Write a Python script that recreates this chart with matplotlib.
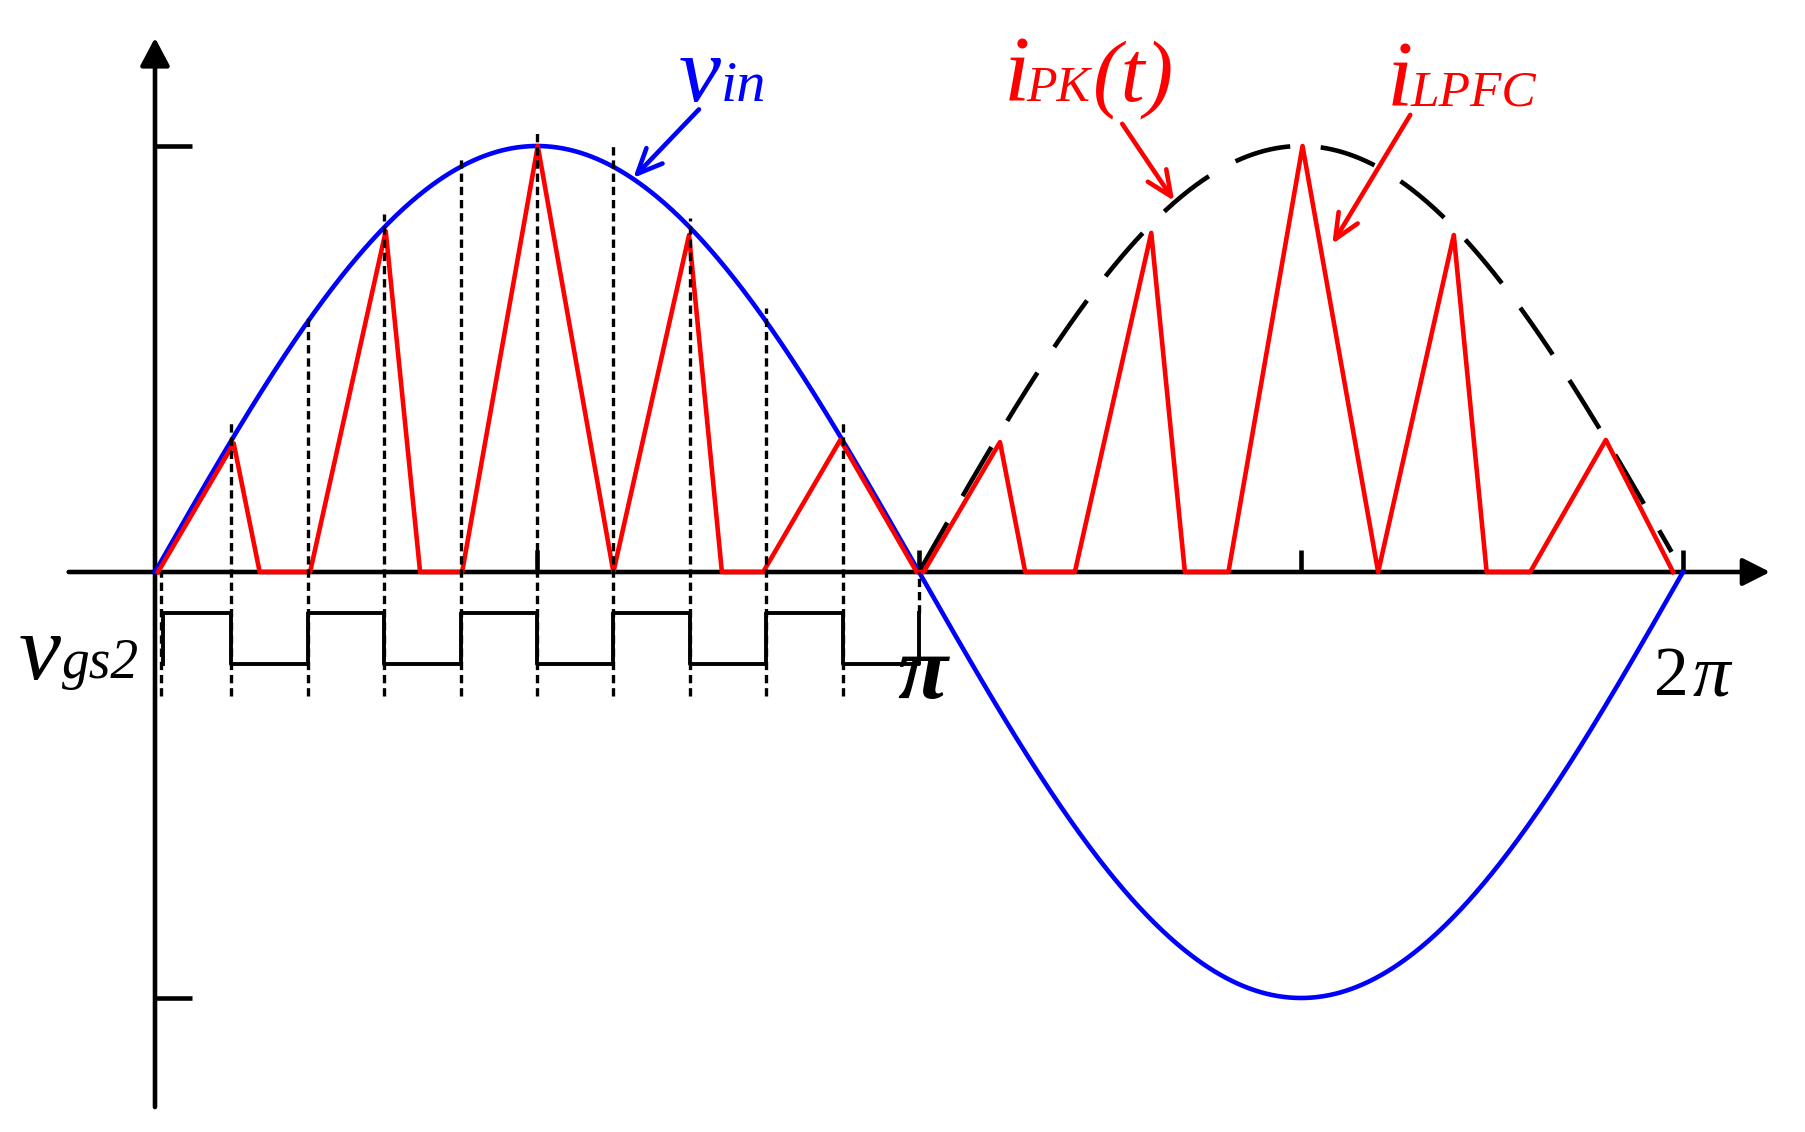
import numpy as np
import matplotlib.pyplot as plt

plt.rcParams['lines.scale_dashes'] = False

# time axis in units of pi, amplitudes normalised to the peak of v_in
t_switch = [0.008, 0.1, 0.2, 0.3, 0.4, 0.5, 0.6, 0.7, 0.8, 0.9, 1.0]
dash_top = [0.0, 0.35, 0.60, 0.84, 0.97, 1.03, 1.01, 0.83, 0.62, 0.36, 0.0]
dash_bottom = [-0.29, -0.29, -0.29, -0.29, -0.29, -0.29, -0.29, -0.29, -0.29, -0.29, -0.096]

# inductor current i_LPFC (triangle vertices)
iL_t = [0.004, 0.103, 0.137, 0.203, 0.302, 0.347, 0.402, 0.501, 0.600, 0.699,
        0.742, 0.796, 0.897, 0.997, 1.006, 1.106, 1.139, 1.204, 1.304, 1.348,
        1.405, 1.502, 1.601, 1.700, 1.743, 1.800, 1.899, 1.987]
iL_y = [0.0, 0.302, 0.0, 0.0, 0.80, 0.0, 0.0, 1.0, 0.0, 0.791,
        0.0, 0.0, 0.31, 0.0, 0.0, 0.305, 0.0, 0.0, 0.796, 0.0,
        0.0, 1.0, 0.0, 0.791, 0.0, 0.0, 0.31, 0.0]

# gate signal v_gs2
vgs_t = [0.01, 0.01, 0.1, 0.2, 0.3, 0.4, 0.5, 0.6, 0.7, 0.8, 0.9, 1.0]
vgs_high = -0.096
vgs_low = -0.216
vgs_y = [vgs_low, vgs_high, vgs_low, vgs_high, vgs_low, vgs_high,
         vgs_low, vgs_high, vgs_low, vgs_high, vgs_low, vgs_high]

x_ticks = [0.5, 1.0, 1.5, 2.0]
y_ticks = [1.0, -1.0]

t = np.linspace(0, 2, 801)
vin = np.sin(np.pi * t)
t_env = np.linspace(1.0, 1.985, 400)
env = np.abs(np.sin(np.pi * t_env))

LW = 3.3

fig = plt.figure(figsize=(18.05, 11.32), dpi=100)
ax = fig.add_axes([0, 0, 1, 1])
ax.set_xlim(-155 / 764, (1805 - 155) / 764)
ax.set_ylim((572 - 1132) / 426, 572 / 426)
ax.axis('off')

# axes with arrows
ax.annotate('', xy=(2.114, 0), xytext=(-0.113, 0),
            arrowprops=dict(arrowstyle='-|>,head_length=0.83,head_width=0.42',
                            lw=LW, color='black', mutation_scale=20,
                            shrinkA=0, shrinkB=0), zorder=1)
ax.annotate('', xy=(0, 1.254), xytext=(0, -1.256),
            arrowprops=dict(arrowstyle='-|>,head_length=0.85,head_width=0.45',
                            lw=LW, color='black', mutation_scale=20,
                            shrinkA=0, shrinkB=0), zorder=1)
for yt in y_ticks:
    ax.plot([0, 0.048], [yt, yt], color='black', lw=LW, solid_capstyle='butt', zorder=1)
for xt in x_ticks:
    ax.plot([xt, xt], [0, 0.052], color='black', lw=LW, solid_capstyle='butt', zorder=1)

ax.plot(t, vin, color='#0000ff', lw=LW, zorder=2)
ax.plot(t_env, env, color='black', lw=LW, dashes=(41, 22), zorder=2)
ax.plot(iL_t, iL_y, color='#ff0000', lw=LW, zorder=3)

for ts, top, bot in zip(t_switch, dash_top, dash_bottom):
    ax.plot([ts, ts], [bot, top], color='black', lw=2.4,
            dashes=(6, 3.5), zorder=4)

ax.step(vgs_t, vgs_y, where='post', color='black', lw=2.8, zorder=4)

# labels
serif = 'Liberation Serif'
ax.text(0.685, 1.106, 'v', color='#0000ff', fontsize=68, family=serif,
        style='italic', ha='left', va='baseline')
ax.text(0.741, 1.106, 'in', color='#0000ff', fontsize=42, family=serif,
        style='italic', ha='left', va='baseline')
ax.annotate('', xy=(0.626, 0.925), xytext=(0.712, 1.086),
            arrowprops=dict(arrowstyle='->,head_length=0.9,head_width=0.4',
                            lw=LW, color='#0000ff', mutation_scale=20,
                            shrinkA=0, shrinkB=0))

ax.text(1.111, 1.106, 'i', color='#ff0000', fontsize=68, family=serif,
        style='italic', ha='left', va='baseline')
ax.text(1.140, 1.106, 'PK', color='#ff0000', fontsize=36, family=serif,
        style='italic', ha='left', va='baseline')
ax.text(1.228, 1.106, '(t)', color='#ff0000', fontsize=62, family=serif,
        style='italic', ha='left', va='baseline')
ax.annotate('', xy=(1.334, 0.871), xytext=(1.266, 1.052),
            arrowprops=dict(arrowstyle='->,head_length=0.9,head_width=0.4',
                            lw=LW, color='#ff0000', mutation_scale=20,
                            shrinkA=0, shrinkB=0))

ax.text(1.612, 1.094, 'i', color='#ff0000', fontsize=68, family=serif,
        style='italic', ha='left', va='baseline')
ax.text(1.643, 1.094, 'LPFC', color='#ff0000', fontsize=37, family=serif,
        style='italic', ha='left', va='baseline')
ax.annotate('', xy=(1.541, 0.770), xytext=(1.643, 1.073),
            arrowprops=dict(arrowstyle='->,head_length=0.9,head_width=0.4',
                            lw=LW, color='#ff0000', mutation_scale=20,
                            shrinkA=0, shrinkB=0))

ax.text(-0.178, -0.25, 'v', color='black', fontsize=68, family=serif,
        style='italic', ha='left', va='baseline')
ax.text(-0.122, -0.25, 'gs2', color='black', fontsize=40, family=serif,
        style='italic', ha='left', va='baseline')

ax.text(0.972, -0.296, 'π', color='black', fontsize=66, family=serif,
        style='italic', weight='bold', ha='left', va='baseline', zorder=5)
ax.text(1.962, -0.289, '2', color='black', fontsize=50, family=serif,
        ha='left', va='baseline')
ax.text(2.012, -0.289, 'π', color='black', fontsize=54, family=serif,
        style='italic', ha='left', va='baseline')

fig.savefig('out.png', dpi=100)
